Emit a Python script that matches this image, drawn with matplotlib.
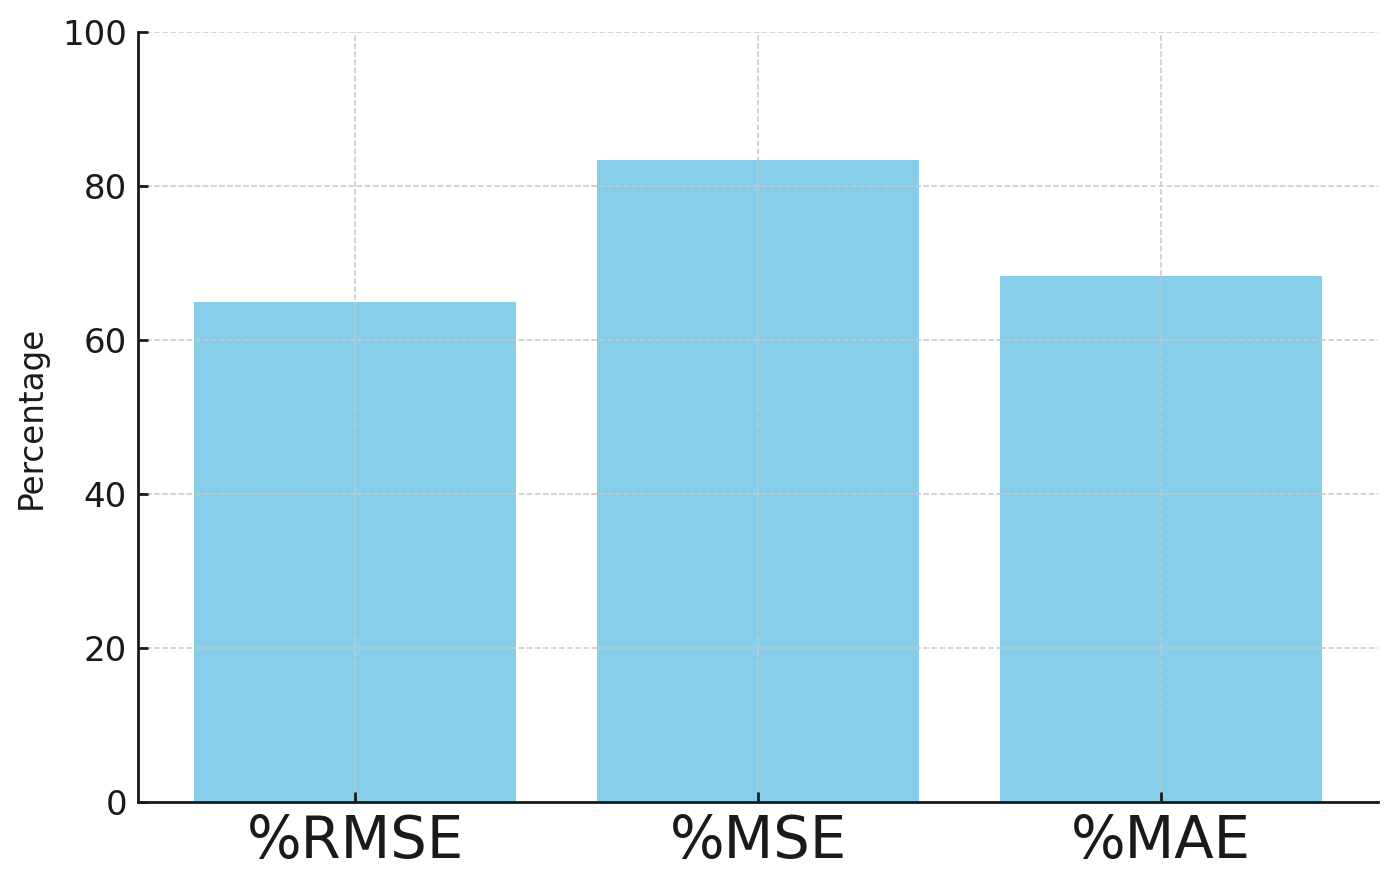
import matplotlib
matplotlib.use("Agg")
import matplotlib.pyplot as plt

categories = ["%RMSE", "%MSE", "%MAE"]
values = [64.9, 83.4, 68.3]
yticks = [0, 20, 40, 60, 80, 100]

fig = plt.figure(figsize=(13.97, 8.89), dpi=100)
ax = fig.add_axes([0.0988, 0.0979, 0.8876, 0.8661])

ax.bar(categories, values, width=0.8, color="#87CEEB", zorder=2)
ax.set_ylim(0, 100)
ax.set_yticks(yticks)
ax.set_ylabel("Percentage", fontsize=23.5, color="#1a1a1a", labelpad=10)

ax.set_axisbelow(False)
ax.grid(True, linestyle="--", color="#c8c8c8", linewidth=1.1)
for line in ax.get_xgridlines() + ax.get_ygridlines():
    line.set_zorder(3)

ax.spines["top"].set_visible(False)
ax.spines["right"].set_visible(False)
for s in ["left", "bottom"]:
    ax.spines[s].set_linewidth(2.0)
    ax.spines[s].set_color("#1a1a1a")
    ax.spines[s].set_zorder(5)

ax.tick_params(axis="y", direction="in", length=7, width=2.0, labelsize=24.5,
               colors="#1a1a1a", pad=8)
ax.tick_params(axis="x", direction="in", length=7, width=2.0, labelsize=41.5,
               colors="#1a1a1a", pad=8)

fig.savefig("out.png", dpi=100)
